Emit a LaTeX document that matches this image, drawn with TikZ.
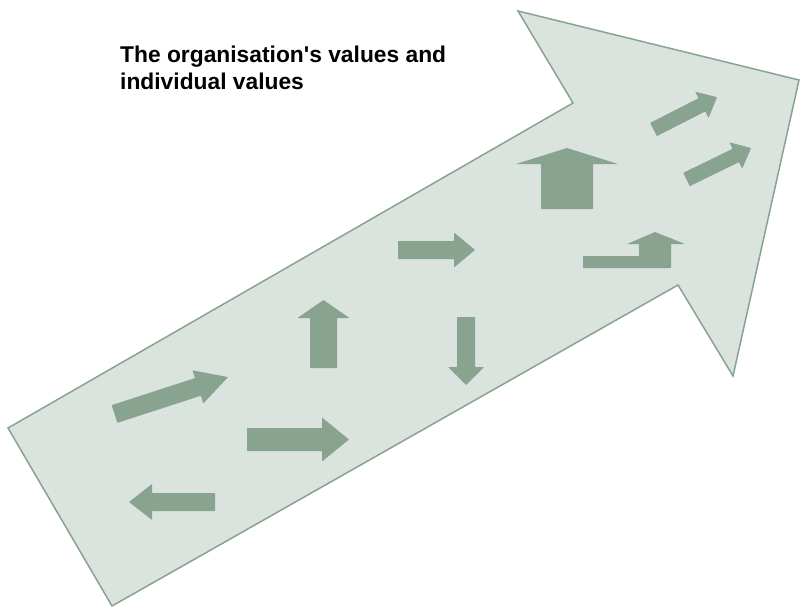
\documentclass[tikz,border=0pt]{standalone}
\usepackage{fontspec}
\newfontfamily\capfont{Liberation Sans}
\definecolor{valgreen}{RGB}{136,163,144}
\definecolor{valpale}{RGB}{218,227,222}
\tikzset{
  bigarrow/.style={draw=valgreen,fill=valpale,line width=1.5pt,line join=miter},
  smallarrow/.style={fill=valgreen,rounded corners=0.6pt},
  caption/.style={align=left,anchor=north west,inner sep=0pt,
    font=\capfont\bfseries\fontsize{22.8}{27}\selectfont}
}
% tail centre, angle, length, half shaft, half head, head length
\newcommand{\valarrow}[6]{%
  \fill[smallarrow,shift={(#1)},rotate=#2] (0,-#4) -- ({#3-#6},-#4) -- ({#3-#6},-#5)
    -- (#3,0) -- ({#3-#6},#5) -- ({#3-#6},#4) -- (0,#4) -- cycle;}

\begin{document}
\begin{tikzpicture}[x=1pt,y=-1pt]
  \useasboundingbox (0,0) rectangle (800,608);
  % the large arrow
  \draw[bigarrow] (8,428) -- (573,103) -- (518,11) -- (799,80) -- (733,376)
    -- (678,285) -- (112,606) -- cycle;
  \node[caption] (title) at (120,45.5) {The organisation's values and\\individual values};
  % small arrows inside
  \valarrow{215,502}{180}{86}{9}{18}{23}
  \valarrow{247,439.5}{0}{102}{11.5}{22}{27}
  \valarrow{114.5,414}{18}{119.4}{9.3}{17.4}{31.7}
  \valarrow{323.5,368}{90}{68}{13.5}{26}{18}
  \valarrow{398,250}{0}{77}{9}{17.5}{21}
  \valarrow{466,317}{-90}{68}{9}{18}{18}
  \valarrow{567,209}{90}{61}{26}{51}{16}
  \valarrow{653.5,129.5}{27}{71.3}{7.4}{14.7}{17}
  \valarrow{686.5,179.5}{26}{71.8}{7.4}{14.7}{17}
  % the bent one
  \fill[smallarrow] (583,256) -- (639,256) -- (639,244) -- (627,244) -- (655,232)
    -- (685,244) -- (671,244) -- (671,268) -- (583,268) -- cycle;
\end{tikzpicture}
\end{document}
